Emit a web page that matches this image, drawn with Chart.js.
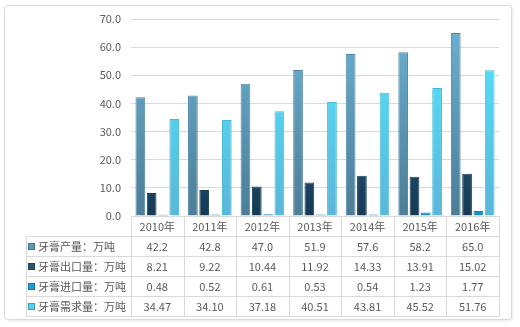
<!DOCTYPE html>
<html>
<head>
<meta charset="utf-8">
<script src="https://cdn.jsdelivr.net/npm/chart.js@4/dist/chart.umd.min.js"></script>
<style>
html,body{margin:0;padding:0;background:#fff;}
#wrap{width:520px;height:327px;position:relative;}
</style>
</head>
<body>
<div id="wrap"><canvas id="c" width="520" height="327"></canvas></div>
<script>
const categories = ['2010年','2011年','2012年','2013年','2014年','2015年','2016年'];
const seriesNames = ['牙膏产量：万吨','牙膏出口量：万吨','牙膏进口量：万吨','牙膏需求量：万吨'];
const production = [42.2, 42.8, 47.0, 51.9, 57.6, 58.2, 65.0];
const exportVol  = [8.21, 9.22, 10.44, 11.92, 14.33, 13.91, 15.02];
const importVol  = [0.48, 0.52, 0.61, 0.53, 0.54, 1.23, 1.77];
const demand     = [34.47, 34.10, 37.18, 40.51, 43.81, 45.52, 51.76];
const decimals   = [1, 2, 2, 2];
const yTicks     = [0, 10, 20, 30, 40, 50, 60, 70];

const FONT = '"Noto Sans CJK SC", "Noto Sans", sans-serif';
const TXT = '#595959';
const LINE = '#d9d9d9';

const grads = [
  ['#6cb2d5', '#4c7d96'],
  ['#3c7193', '#143a55'],
  ['#28b0e6', '#1590c8'],
  ['#50e8fd', '#5bb6da']
];
const borders = ['#4f86a3', '#1d3f57', '#1a86b8', '#47b8d6'];
const swatches = ['#5a9bbd', '#2a5573', '#1a9dd9', '#56d2f0'];

function gradFill(i) {
  return function(ctx) {
    const ch = ctx.chart; const a = ch.chartArea;
    if (!a) return grads[i][0];
    const g = ch.ctx.createLinearGradient(0, a.top, 0, a.bottom);
    g.addColorStop(0, grads[i][0]);
    g.addColorStop(1, grads[i][1]);
    return g;
  };
}

const allSeries = [production, exportVol, importVol, demand];

const framePlugin = {
  id: 'frame',
  beforeDraw(chart) {
    const c = chart.ctx;
    c.save();
    c.fillStyle = '#fff';
    c.fillRect(0, 0, chart.width, chart.height);
    c.shadowColor = 'rgba(0,0,0,0.12)';
    c.shadowBlur = 3;
    c.shadowOffsetX = 1; c.shadowOffsetY = 1;
    c.beginPath();
    if (c.roundRect) c.roundRect(4.5, 5.5, 507, 314, 3); else c.rect(4.5, 5.5, 507, 314);
    c.fillStyle = '#fff';
    c.fill();
    c.shadowColor = 'transparent';
    c.strokeStyle = LINE;
    c.lineWidth = 1;
    c.stroke();
    c.restore();
  }
};

const tablePlugin = {
  id: 'dataTable',
  afterDraw(chart) {
    const c = chart.ctx;
    const x = chart.scales.x;
    const a = chart.chartArea;
    const n = categories.length;
    const rowH = 20;
    const top = a.bottom;
    const legendLeft = 26;
    const bounds = [];
    for (let i = 0; i <= n; i++) {
      if (i === 0) bounds.push(a.left);
      else if (i === n) bounds.push(a.right);
      else bounds.push((x.getPixelForValue(i - 1) + x.getPixelForValue(i)) / 2);
    }
    const rows = allSeries.length;
    const bottom = top + rowH * (rows + 1);
    c.save();
    c.strokeStyle = LINE;
    c.lineWidth = 1;
    c.beginPath();
    // header top
    c.moveTo(a.left, Math.round(top) + 0.5); c.lineTo(a.right, Math.round(top) + 0.5);
    // row lines
    for (let r = 1; r <= rows + 1; r++) {
      const y = Math.round(top + r * rowH) + 0.5;
      c.moveTo(legendLeft, y); c.lineTo(a.right, y);
    }
    // vertical lines
    for (let i = 0; i <= n; i++) {
      const xx = Math.round(bounds[i]) + 0.5;
      c.moveTo(xx, top); c.lineTo(xx, bottom);
    }
    c.moveTo(legendLeft + 0.5, top + rowH); c.lineTo(legendLeft + 0.5, bottom);
    c.stroke();

    c.font = '11px ' + FONT;
    c.fillStyle = TXT;
    c.textBaseline = 'middle';
    c.textAlign = 'center';
    for (let i = 0; i < n; i++) {
      c.fillText(categories[i], x.getPixelForValue(i), top + rowH / 2 + 1);
    }
    for (let r = 0; r < rows; r++) {
      const cy = top + rowH * (r + 1) + rowH / 2 + 1;
      c.textAlign = 'center';
      c.fillStyle = TXT;
      for (let i = 0; i < n; i++) {
        c.fillText(allSeries[r][i].toFixed(decimals[r]), x.getPixelForValue(i), cy);
      }
      c.fillStyle = swatches[r];
      c.fillRect(legendLeft + 2, Math.round(cy) - 4, 7, 7);
      c.strokeStyle = 'rgba(0,0,0,0.25)';
      c.strokeRect(legendLeft + 2.5, Math.round(cy) - 3.5, 6, 6);
      c.fillStyle = TXT;
      c.textAlign = 'left';
      c.fillText(seriesNames[r], legendLeft + 12, cy);
    }
    c.restore();
  }
};

new Chart(document.getElementById('c'), {
  type: 'bar',
  data: {
    labels: categories,
    datasets: allSeries.map((d, i) => ({
      label: seriesNames[i],
      data: d,
      backgroundColor: gradFill(i),
      borderColor: borders[i],
      borderWidth: 1,
      borderSkipped: 'bottom',
      categoryPercentage: 0.86,
      barPercentage: 0.86
    }))
  },
  options: {
    responsive: false,
    animation: false,
    devicePixelRatio: 1,
    layout: { padding: { left: 0, right: 21, top: 19, bottom: 111 } },
    plugins: { legend: { display: false }, tooltip: { enabled: false } },
    scales: {
      x: { display: false, grid: { display: false } },
      y: {
        min: 0, max: 70,
        afterFit(s) { s.width = 131; },
        afterBuildTicks(s) { s.ticks = yTicks.map(v => ({ value: v })); },
        ticks: {
          padding: 10,
          color: TXT,
          font: { family: FONT, size: 11 },
          callback: v => Number(v).toFixed(1)
        },
        grid: { color: LINE, lineWidth: 1, drawTicks: false },
        border: { display: false }
      }
    }
  },
  plugins: [framePlugin, tablePlugin]
});
</script>
</body>
</html>
